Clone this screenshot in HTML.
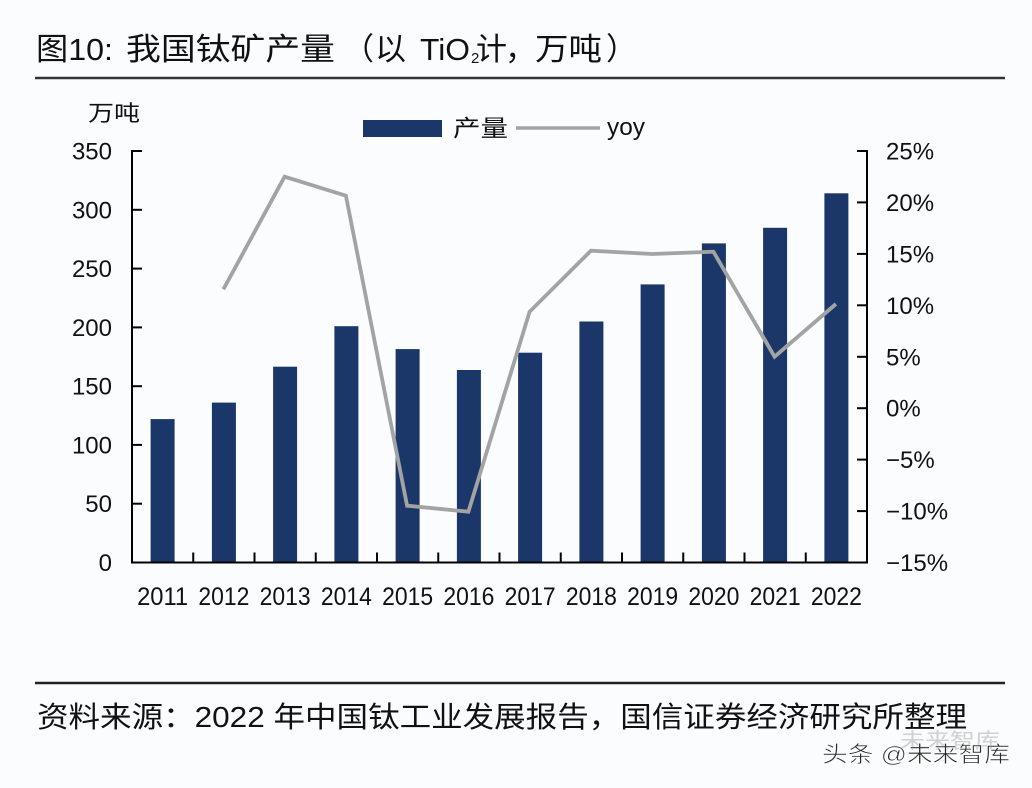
<!DOCTYPE html>
<html>
<head>
<meta charset="utf-8">
<style>
  html,body{margin:0;padding:0;background:#fafcfe;}
  svg{display:block;}
  text{font-family:"Liberation Sans","Noto Sans CJK SC",sans-serif;fill:#111;}
</style>
</head>
<body>
<svg width="1032" height="788" viewBox="0 0 1032 788" xmlns="http://www.w3.org/2000/svg">
  <rect x="0" y="0" width="1032" height="788" fill="#fafcfe"/>

  <!-- Title -->
  <g font-size="31">
    <text x="36" y="60" textLength="77" lengthAdjust="spacingAndGlyphs">图10:</text>
    <text x="126" y="60" textLength="209" lengthAdjust="spacingAndGlyphs">我国钛矿产量</text>
    <text x="343" y="60">（</text>
    <text x="375" y="60">以</text>
    <text x="420" y="60" textLength="50" lengthAdjust="spacingAndGlyphs">TiO</text>
    <text x="471" y="63" font-size="15">2</text>
    <text x="476" y="60">计</text>
    <text x="505" y="60">，</text>
    <text x="535" y="60" textLength="67" lengthAdjust="spacingAndGlyphs">万吨</text>
    <text x="606" y="60">）</text>
  </g>
  <line x1="35" y1="78" x2="1005" y2="78" stroke="#333" stroke-width="2.5"/>

  <!-- unit label -->
  <text x="88" y="121" font-size="22" textLength="52" lengthAdjust="spacingAndGlyphs">万吨</text>

  <!-- Legend -->
  <rect x="363" y="120" width="79" height="17" fill="#1b3769"/>
  <text x="453" y="136" font-size="23" textLength="55" lengthAdjust="spacingAndGlyphs">产量</text>
  <line x1="516" y1="128" x2="600" y2="128" stroke="#a3a3a3" stroke-width="3.5"/>
  <text x="607" y="135" font-size="24" textLength="38" lengthAdjust="spacingAndGlyphs">yoy</text>

  <!-- Bars -->
  <g fill="#1b3769">
    <rect x="150.6" y="419.1" width="24" height="143.4"/>
    <rect x="211.9" y="402.6" width="24" height="159.9"/>
    <rect x="273.1" y="366.7" width="24" height="195.8"/>
    <rect x="334.4" y="326.2" width="24" height="236.3"/>
    <rect x="395.6" y="349.1" width="24" height="213.4"/>
    <rect x="456.9" y="370.0" width="24" height="192.5"/>
    <rect x="518.1" y="352.7" width="24" height="209.8"/>
    <rect x="579.4" y="321.5" width="24" height="241.0"/>
    <rect x="640.6" y="284.4" width="24" height="278.1"/>
    <rect x="701.9" y="243.4" width="24" height="319.1"/>
    <rect x="763.1" y="227.8" width="24" height="334.7"/>
    <rect x="824.4" y="193.3" width="24" height="369.2"/>
  </g>

  <!-- yoy line -->
  <polyline fill="none" stroke="#a3a3a3" stroke-width="3.8" stroke-linejoin="miter"
    points="223.4,289.3 284.6,176.7 345.9,195.7 407.1,505.7 468.4,511.7 529.6,311.7 590.9,250.7 652.1,254 713.4,251.7 774.6,356.7 835.9,304"/>

  <!-- Axes -->
  <g stroke="#000" stroke-width="2" fill="none">
    <line x1="132" y1="150" x2="132" y2="563.5"/>
    <line x1="867" y1="150" x2="867" y2="563.5"/>
    <line x1="131" y1="562.5" x2="868" y2="562.5"/>
    <!-- left ticks -->
    <line x1="132" y1="151" x2="142" y2="151"/>
    <line x1="132" y1="209.8" x2="142" y2="209.8"/>
    <line x1="132" y1="268.6" x2="142" y2="268.6"/>
    <line x1="132" y1="327.4" x2="142" y2="327.4"/>
    <line x1="132" y1="386.2" x2="142" y2="386.2"/>
    <line x1="132" y1="444.9" x2="142" y2="444.9"/>
    <line x1="132" y1="503.7" x2="142" y2="503.7"/>
    <!-- right ticks -->
    <line x1="857" y1="151" x2="867" y2="151"/>
    <line x1="857" y1="202.4" x2="867" y2="202.4"/>
    <line x1="857" y1="253.9" x2="867" y2="253.9"/>
    <line x1="857" y1="305.3" x2="867" y2="305.3"/>
    <line x1="857" y1="356.8" x2="867" y2="356.8"/>
    <line x1="857" y1="408.2" x2="867" y2="408.2"/>
    <line x1="857" y1="459.6" x2="867" y2="459.6"/>
    <line x1="857" y1="511.1" x2="867" y2="511.1"/>
    <!-- category ticks -->
    <line x1="193.25" y1="552.5" x2="193.25" y2="562.5"/>
    <line x1="254.5" y1="552.5" x2="254.5" y2="562.5"/>
    <line x1="315.75" y1="552.5" x2="315.75" y2="562.5"/>
    <line x1="377" y1="552.5" x2="377" y2="562.5"/>
    <line x1="438.25" y1="552.5" x2="438.25" y2="562.5"/>
    <line x1="499.5" y1="552.5" x2="499.5" y2="562.5"/>
    <line x1="560.75" y1="552.5" x2="560.75" y2="562.5"/>
    <line x1="622" y1="552.5" x2="622" y2="562.5"/>
    <line x1="683.25" y1="552.5" x2="683.25" y2="562.5"/>
    <line x1="744.5" y1="552.5" x2="744.5" y2="562.5"/>
    <line x1="805.75" y1="552.5" x2="805.75" y2="562.5"/>
  </g>

  <!-- Left tick labels -->
  <g font-size="24" text-anchor="end">
    <text x="112" y="159.5">350</text>
    <text x="112" y="218.3">300</text>
    <text x="112" y="277.1">250</text>
    <text x="112" y="335.9">200</text>
    <text x="112" y="394.7">150</text>
    <text x="112" y="453.4">100</text>
    <text x="112" y="512.2">50</text>
    <text x="112" y="571">0</text>
  </g>

  <!-- Right tick labels -->
  <g font-size="24">
    <text x="886" y="159.5">25%</text>
    <text x="886" y="210.9">20%</text>
    <text x="886" y="262.4">15%</text>
    <text x="886" y="313.8">10%</text>
    <text x="886" y="365.3">5%</text>
    <text x="886" y="416.7">0%</text>
    <text x="886" y="468.1">−5%</text>
    <text x="886" y="519.6">−10%</text>
    <text x="886" y="571">−15%</text>
  </g>

  <!-- X labels -->
  <g font-size="25" text-anchor="middle">
    <text x="162.6" y="605" textLength="51" lengthAdjust="spacingAndGlyphs">2011</text>
    <text x="223.9" y="605" textLength="51" lengthAdjust="spacingAndGlyphs">2012</text>
    <text x="285.1" y="605" textLength="51" lengthAdjust="spacingAndGlyphs">2013</text>
    <text x="346.4" y="605" textLength="51" lengthAdjust="spacingAndGlyphs">2014</text>
    <text x="407.6" y="605" textLength="51" lengthAdjust="spacingAndGlyphs">2015</text>
    <text x="468.9" y="605" textLength="51" lengthAdjust="spacingAndGlyphs">2016</text>
    <text x="530.1" y="605" textLength="51" lengthAdjust="spacingAndGlyphs">2017</text>
    <text x="591.4" y="605" textLength="51" lengthAdjust="spacingAndGlyphs">2018</text>
    <text x="652.6" y="605" textLength="51" lengthAdjust="spacingAndGlyphs">2019</text>
    <text x="713.9" y="605" textLength="51" lengthAdjust="spacingAndGlyphs">2020</text>
    <text x="775.1" y="605" textLength="51" lengthAdjust="spacingAndGlyphs">2021</text>
    <text x="836.4" y="605" textLength="51" lengthAdjust="spacingAndGlyphs">2022</text>
  </g>

  <!-- Footer -->
  <line x1="35" y1="683" x2="1005" y2="683" stroke="#222" stroke-width="2.5"/>
  <text x="37" y="727" font-size="29" textLength="930" lengthAdjust="spacingAndGlyphs">资料来源：2022 年中国钛工业发展报告，国信证券经济研究所整理</text>

  <!-- Watermark -->
  <text x="900" y="748" font-size="21" style="fill:#d0d0d0" textLength="100" lengthAdjust="spacingAndGlyphs">未来智库</text>
  <text x="822" y="762" font-size="22" style="fill:#2a2a2a;stroke:#fff;stroke-width:0.6" textLength="188" lengthAdjust="spacingAndGlyphs">头条 @未来智库</text>
</svg>
</body>
</html>
